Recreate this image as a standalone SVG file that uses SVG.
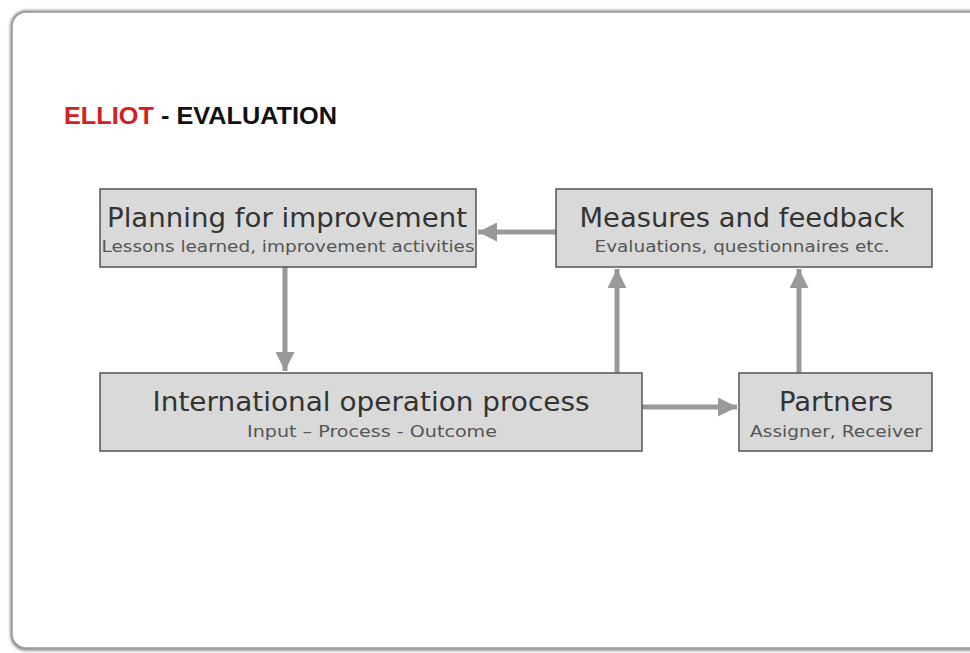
<svg xmlns="http://www.w3.org/2000/svg" width="970" height="653" viewBox="0 0 970 653">
<defs>
<style>
.box{fill:#d9d9d9;stroke:#555;stroke-width:1.5}
.t1{font-family:"DejaVu Sans",Verdana,sans-serif;font-size:26px;fill:#333;text-anchor:middle}
.t2{font-family:"DejaVu Sans",Verdana,sans-serif;font-size:16.5px;fill:#555;text-anchor:middle}
.c{stroke:#999;stroke-width:5;fill:none}
.ttl{font-family:"Liberation Sans",Arial,sans-serif;font-size:23px;font-weight:bold}
</style>
<marker id="ah" viewBox="0 0 10 10" refX="10" refY="5" markerWidth="5" markerHeight="3.8" markerUnits="strokeWidth" orient="auto">
<path d="M0,0 L10,5 L0,10 z" fill="#999"/>
</marker>
<filter id="sh" x="-5%" y="-5%" width="110%" height="110%">
<feGaussianBlur stdDeviation="1.5"/>
</filter>
</defs>
<rect width="970" height="653" fill="#fff"/>
<rect x="12" y="12" width="975" height="637" rx="14" fill="none" stroke="#777" stroke-width="3" filter="url(#sh)"/>
<rect x="12" y="12" width="975" height="636" rx="14" fill="#fff" stroke="#999" stroke-width="1.5"/>
<text class="ttl" x="64" y="124" textLength="273" lengthAdjust="spacingAndGlyphs"><tspan fill="#d42020">ELLIOT</tspan><tspan fill="#111"> - EVALUATION</tspan></text>
<g id="connectors">
<line class="c" x1="556" y1="232" x2="478" y2="232" marker-end="url(#ah)"/>
<line class="c" x1="285" y1="267" x2="285" y2="371" marker-end="url(#ah)"/>
<line class="c" x1="617" y1="373" x2="617" y2="269" marker-end="url(#ah)"/>
<line class="c" x1="642" y1="407" x2="737" y2="407" marker-end="url(#ah)"/>
<line class="c" x1="799" y1="373" x2="799" y2="269" marker-end="url(#ah)"/>
</g>
<g id="planning">
<rect class="box" x="100" y="189" width="376" height="78"/>
<text class="t1" x="287" y="227" textLength="360" lengthAdjust="spacingAndGlyphs">Planning for improvement</text>
<text class="t2" x="288" y="252" textLength="373" lengthAdjust="spacingAndGlyphs">Lessons learned, improvement activities</text>
</g>
<g id="measures">
<rect class="box" x="556" y="189" width="376" height="78"/>
<text class="t1" x="742" y="227" textLength="325" lengthAdjust="spacingAndGlyphs">Measures and feedback</text>
<text class="t2" x="742" y="252" textLength="295" lengthAdjust="spacingAndGlyphs">Evaluations, questionnaires etc.</text>
</g>
<g id="process">
<rect class="box" x="100" y="373" width="542" height="78"/>
<text class="t1" x="371" y="411" textLength="437" lengthAdjust="spacingAndGlyphs">International operation process</text>
<text class="t2" x="372" y="437" textLength="250" lengthAdjust="spacingAndGlyphs">Input – Process - Outcome</text>
</g>
<g id="partners">
<rect class="box" x="739" y="373" width="193" height="78"/>
<text class="t1" x="836" y="411" textLength="114" lengthAdjust="spacingAndGlyphs">Partners</text>
<text class="t2" x="836" y="437" textLength="172" lengthAdjust="spacingAndGlyphs">Assigner, Receiver</text>
</g>
</svg>
